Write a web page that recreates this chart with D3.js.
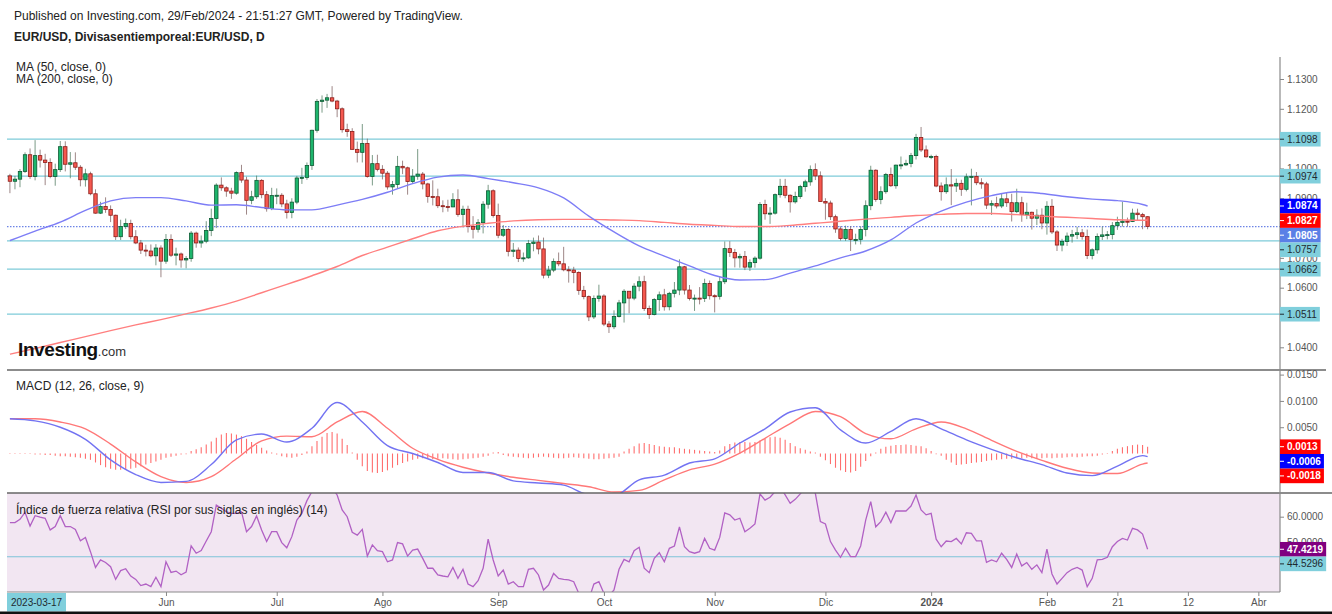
<!DOCTYPE html>
<html>
<head>
<meta charset="utf-8">
<script src="https://cdn.jsdelivr.net/npm/d3@7"></script>
<style>
  body { margin: 0; background: #fff; }
  svg text { font-family: "Liberation Sans", Arial, Helvetica, sans-serif; }
</style>
</head>
<body>
<svg id="chart" width="1332" height="614"></svg>
<script>
// ---- data (EUR/USD daily, from 2023-04-19) ----
const firstDay = new Date(2023, 3, 19);

const openP = [
1.0975,1.0957,1.0964,1.0990,1.1046,1.0973,1.1043,1.1028,1.1020,1.0973,
1.0996,1.1073,1.1014,1.1019,1.1004,1.0962,1.0982,1.0915,1.0850,1.0872,
1.0862,1.0843,1.0771,1.0805,1.0815,1.0771,1.0750,1.0726,1.0723,1.0707,
1.0733,1.0689,1.0762,1.0709,1.0713,1.0693,1.0698,1.0783,1.0750,1.0756,
1.0792,1.0832,1.0944,1.0935,1.0924,1.0917,1.0986,1.0961,1.0893,1.0905,
1.0960,1.0912,1.0865,1.0909,1.0910,1.0881,1.0852,1.0887,1.0968,1.0970,
1.1010,1.1128,1.1225,1.1229,1.1237,1.1226,1.1200,1.1130,1.1124,1.1064,
1.1054,1.1084,1.0973,1.1016,1.0997,1.0984,1.0938,1.0946,1.1007,1.1002,
1.0956,1.0974,1.0981,1.0948,1.0906,1.0905,1.0875,1.0872,1.0871,1.0895,
1.0846,1.0863,1.0805,1.0796,1.0818,1.0880,1.0925,1.0842,1.0776,1.0795,
1.0722,1.0726,1.0698,1.0700,1.0748,1.0753,1.0730,1.0642,1.0659,1.0688,
1.0680,1.0660,1.0659,1.0651,1.0591,1.0570,1.0502,1.0564,1.0572,1.0478,
1.0469,1.0503,1.0549,1.0588,1.0565,1.0605,1.0620,1.0530,1.0510,1.0560,
1.0576,1.0536,1.0581,1.0592,1.0670,1.0592,1.0564,1.0565,1.0564,1.0614,
1.0573,1.0571,1.0620,1.0731,1.0718,1.0700,1.0705,1.0669,1.0684,1.0699,
1.0879,1.0848,1.0850,1.0912,1.0940,1.0910,1.0888,1.0906,1.0939,1.0955,
1.0996,1.0975,1.0889,1.0884,1.0838,1.0797,1.0765,1.0795,1.0762,1.0762,
1.0795,1.0875,1.0994,1.0896,1.0922,1.0980,1.0942,1.1011,1.1012,1.1017,
1.1043,1.1104,1.1062,1.1039,1.1040,1.0941,1.0922,1.0945,1.0941,1.0950,
1.0930,1.0972,1.0973,1.0952,1.0948,1.0877,1.0882,1.0874,1.0898,1.0885,
1.0855,1.0885,1.0845,1.0853,1.0833,1.0843,1.0817,1.0873,1.0787,1.0743,
1.0755,1.0773,1.0778,1.0784,1.0772,1.0708,1.0727,1.0772,1.0777,1.0778,
1.0808,1.0819,1.0823,1.0822,1.0850,1.0845,1.0838];

const highP = [
1.0982,1.0975,1.0998,1.1054,1.1067,1.1095,1.1063,1.1049,1.1034,1.1016,
1.1092,1.1091,1.1055,1.1054,1.1011,1.0999,1.0989,1.0930,1.0888,1.0903,
1.0876,1.0845,1.0828,1.0832,1.0828,1.0793,1.0760,1.0744,1.0745,1.0746,
1.0742,1.0780,1.0779,1.0734,1.0718,1.0706,1.0790,1.0788,1.0775,1.0823,
1.0865,1.0950,1.0970,1.0940,1.0935,1.0990,1.1012,1.0972,1.0925,1.0976,
1.0964,1.0924,1.0935,1.0933,1.0917,1.0895,1.0900,1.0975,1.1002,1.1020,
1.1130,1.1233,1.1245,1.1250,1.1276,1.1230,1.1205,1.1150,1.1135,1.1090,
1.1149,1.1100,1.1045,1.1046,1.1011,1.0991,1.0958,1.1042,1.1026,1.1006,
1.0998,1.1065,1.0988,1.0952,1.0960,1.0932,1.0893,1.0895,1.0917,1.0930,
1.0875,1.0875,1.0840,1.0830,1.0890,1.0945,1.0930,1.0882,1.0810,1.0800,
1.0750,1.0735,1.0718,1.0760,1.0768,1.0775,1.0768,1.0673,1.0698,1.0718,
1.0737,1.0672,1.0670,1.0655,1.0606,1.0574,1.0574,1.0610,1.0578,1.0488,
1.0524,1.0559,1.0595,1.0588,1.0615,1.0638,1.0640,1.0540,1.0565,1.0587,
1.0596,1.0586,1.0619,1.0695,1.0673,1.0609,1.0577,1.0602,1.0630,1.0624,
1.0578,1.0639,1.0755,1.0756,1.0730,1.0714,1.0723,1.0695,1.0705,1.0887,
1.0895,1.0870,1.0916,1.0965,1.0965,1.0913,1.0922,1.0945,1.0962,1.1010,
1.1017,1.0990,1.0900,1.0892,1.0845,1.0806,1.0808,1.0806,1.0781,1.0806,
1.0893,1.1009,1.0997,1.0940,1.0985,1.1003,1.1013,1.1040,1.1029,1.1052,
1.1116,1.1139,1.1077,1.1046,1.1046,1.0953,1.0970,1.0998,1.0966,1.0962,
1.0983,1.0999,1.0988,1.0967,1.0955,1.0893,1.0905,1.0915,1.0920,1.0915,
1.0932,1.0905,1.0885,1.0855,1.0863,1.0866,1.0890,1.0897,1.0793,1.0764,
1.0785,1.0794,1.0804,1.0797,1.0795,1.0732,1.0782,1.0805,1.0790,1.0820,
1.0838,1.0888,1.0835,1.0865,1.0865,1.0851,1.0840];

const lowP = [
1.0917,1.0930,1.0937,1.0985,1.0965,1.0960,1.1003,1.0944,1.0967,1.0942,
1.0988,1.0990,1.0967,1.0995,1.0940,1.0939,1.0910,1.0848,1.0847,1.0851,
1.0820,1.0760,1.0760,1.0797,1.0762,1.0746,1.0713,1.0705,1.0702,1.0675,
1.0635,1.0680,1.0703,1.0675,1.0667,1.0665,1.0687,1.0734,1.0734,1.0749,
1.0773,1.0800,1.0925,1.0905,1.0898,1.0912,1.0952,1.0845,1.0880,1.0898,
1.0900,1.0855,1.0860,1.0880,1.0870,1.0832,1.0833,1.0880,1.0948,1.0962,
1.0995,1.1120,1.1187,1.1203,1.1222,1.1172,1.1120,1.1106,1.1063,1.1020,
1.1020,1.0969,1.0943,1.0990,1.0963,1.0929,1.0912,1.0932,1.0981,1.0912,
1.0949,1.0962,1.0930,1.0885,1.0876,1.0867,1.0853,1.0855,1.0870,1.0838,
1.0802,1.0785,1.0765,1.0785,1.0782,1.0865,1.0835,1.0766,1.0770,1.0705,
1.0703,1.0686,1.0687,1.0697,1.0722,1.0712,1.0631,1.0632,1.0652,1.0672,
1.0655,1.0617,1.0615,1.0576,1.0561,1.0488,1.0495,1.0553,1.0471,1.0448,
1.0461,1.0500,1.0483,1.0514,1.0558,1.0588,1.0522,1.0495,1.0507,1.0522,
1.0523,1.0524,1.0567,1.0575,1.0577,1.0557,1.0522,1.0544,1.0552,1.0560,
1.0517,1.0560,1.0612,1.0703,1.0668,1.0667,1.0659,1.0656,1.0667,1.0694,
1.0828,1.0814,1.0845,1.0902,1.0900,1.0852,1.0882,1.0898,1.0922,1.0942,
1.0961,1.0888,1.0828,1.0827,1.0784,1.0758,1.0757,1.0723,1.0745,1.0745,
1.0772,1.0860,1.0888,1.0880,1.0915,1.0938,1.0932,1.0997,1.1008,1.1004,
1.1030,1.1055,1.1036,1.1031,1.0937,1.0892,1.0915,1.0877,1.0921,1.0908,
1.0923,1.0876,1.0944,1.0932,1.0864,1.0844,1.0866,1.0867,1.0871,1.0822,
1.0850,1.0821,1.0830,1.0795,1.0810,1.0796,1.0778,1.0780,1.0723,1.0722,
1.0740,1.0751,1.0763,1.0761,1.0696,1.0695,1.0714,1.0760,1.0762,1.0762,
1.0794,1.0805,1.0805,1.0820,1.0825,1.0796,1.0796];

const closeP = [
1.0957,1.0964,1.0990,1.1046,1.0973,1.1043,1.1028,1.1020,1.0973,1.0996,
1.1073,1.1014,1.1019,1.1004,1.0962,1.0982,1.0915,1.0850,1.0872,1.0862,
1.0843,1.0771,1.0805,1.0815,1.0771,1.0750,1.0726,1.0723,1.0707,1.0733,
1.0689,1.0762,1.0709,1.0713,1.0693,1.0698,1.0783,1.0750,1.0756,1.0792,
1.0832,1.0944,1.0935,1.0924,1.0917,1.0986,1.0961,1.0893,1.0905,1.0960,
1.0912,1.0865,1.0909,1.0910,1.0881,1.0852,1.0887,1.0968,1.0970,1.1010,
1.1128,1.1225,1.1229,1.1237,1.1226,1.1200,1.1130,1.1124,1.1064,1.1054,
1.1084,1.0973,1.1016,1.0997,1.0984,1.0938,1.0946,1.1007,1.1002,1.0956,
1.0974,1.0981,1.0948,1.0906,1.0905,1.0875,1.0872,1.0871,1.0895,1.0846,
1.0863,1.0805,1.0796,1.0818,1.0880,1.0925,1.0842,1.0776,1.0795,1.0722,
1.0726,1.0698,1.0700,1.0748,1.0753,1.0730,1.0642,1.0659,1.0688,1.0680,
1.0660,1.0659,1.0651,1.0591,1.0570,1.0502,1.0564,1.0572,1.0478,1.0469,
1.0503,1.0549,1.0588,1.0565,1.0605,1.0620,1.0530,1.0510,1.0560,1.0576,
1.0536,1.0581,1.0592,1.0670,1.0592,1.0564,1.0565,1.0564,1.0614,1.0573,
1.0571,1.0620,1.0731,1.0718,1.0700,1.0705,1.0669,1.0684,1.0699,1.0879,
1.0848,1.0850,1.0912,1.0940,1.0910,1.0888,1.0906,1.0939,1.0955,1.0996,
1.0975,1.0889,1.0884,1.0838,1.0797,1.0765,1.0795,1.0762,1.0762,1.0795,
1.0875,1.0994,1.0896,1.0922,1.0980,1.0942,1.1011,1.1012,1.1017,1.1043,
1.1104,1.1062,1.1039,1.1040,1.0941,1.0922,1.0945,1.0941,1.0950,1.0930,
1.0972,1.0973,1.0952,1.0948,1.0877,1.0882,1.0874,1.0898,1.0885,1.0855,
1.0885,1.0845,1.0853,1.0833,1.0843,1.0817,1.0873,1.0787,1.0743,1.0755,
1.0773,1.0778,1.0784,1.0772,1.0708,1.0727,1.0772,1.0777,1.0778,1.0808,
1.0819,1.0823,1.0822,1.0850,1.0845,1.0838,1.0805];

// indicator samples: bar index of each sample
const sampleIdx = [0,5,10,15,20,25,30,35,40,45,50,55,60,65,70,75,80,85,90,95,
  100,105,110,115,120,125,130,135,140,145,150,155,160,165,170,175,180,185,190,195,
  200,205,210,215,220,225,226];

const ma50 = [
1.0758,1.0790,1.0820,1.0859,1.0891,1.0902,1.0902,1.0891,1.0877,1.0878,
1.0869,1.0861,1.0861,1.0877,1.0896,1.0920,1.0949,1.0971,1.0978,1.0966,
1.0952,1.0935,1.0901,1.0840,1.0787,1.0740,1.0706,1.0673,1.0641,1.0626,
1.0627,1.0649,1.0673,1.0700,1.0723,1.0760,1.0817,1.0857,1.0887,1.0909,
1.0922,1.0916,1.0905,1.0897,1.0892,1.0879,1.0874];

const ma200 = [
1.0377,1.0396,1.0416,1.0436,1.0456,1.0475,1.0493,1.0512,1.0532,1.0555,
1.0583,1.0611,1.0640,1.0671,1.0708,1.0736,1.0764,1.0791,1.0806,1.0816,
1.0824,1.0828,1.0829,1.0829,1.0827,1.0825,1.0819,1.0813,1.0809,1.0805,
1.0805,1.0809,1.0816,1.0823,1.0830,1.0836,1.0842,1.0846,1.0849,1.0849,
1.0845,1.0840,1.0836,1.0832,1.0828,1.0826,1.0827];

const macdLine = [
0.0066,0.0062,0.0050,0.0027,-0.0012,-0.0040,-0.0055,-0.0053,-0.0021,0.0026,
0.0037,0.0022,0.0048,0.0097,0.0060,0.0015,0.0000,-0.0017,-0.0036,-0.0036,
-0.0052,-0.0056,-0.0060,-0.0078,-0.0080,-0.0050,-0.0041,-0.0018,-0.0010,0.0020,
0.0047,0.0079,0.0087,0.0045,0.0020,0.0042,0.0066,0.0047,0.0026,0.0008,
-0.0008,-0.0021,-0.0037,-0.0042,-0.0024,-0.0004,-0.0006];

const signalLine = [
0.0066,0.0066,0.0060,0.0047,0.0018,-0.0016,-0.0044,-0.0055,-0.0044,-0.0010,
0.0024,0.0033,0.0032,0.0060,0.0080,0.0048,0.0010,-0.0011,-0.0026,-0.0037,
-0.0045,-0.0051,-0.0057,-0.0063,-0.0073,-0.0070,-0.0050,-0.0031,-0.0020,0.0001,
0.0029,0.0057,0.0080,0.0070,0.0038,0.0028,0.0047,0.0060,0.0047,0.0025,
0.0004,-0.0013,-0.0028,-0.0037,-0.0038,-0.0020,-0.0018];

// MACD histogram, one bar per day, in units of 0.0001
const macdHist = [
-1,-1,-1,-1,-1,-2,-2,-3,-3,-4,
-5,-5,-6,-7,-8,-10,-12,-17,-22,-26,
-29,-31,-31,-30,-29,-27,-24,-21,-18,-15,
-12,-8,-6,-4,-2,0,5,8,12,17,
23,30,36,39,38,36,33,28,22,16,
11,6,2,-2,-5,-7,-8,-6,-3,4,
14,24,32,39,41,38,28,16,2,-12,
-24,-33,-36,-37,-35,-32,-27,-22,-18,-15,
-12,-10,-9,-10,-11,-10,-9,-10,-11,-12,
-11,-10,-9,-8,-6,-4,2,3,-3,-5,
-6,-7,-8,-9,-8,-7,-6,-7,-8,-9,
-9,-8,-7,-8,-9,-10,-11,-11,-10,-9,
-8,-6,4,9,14,19,20,18,16,14,
13,12,12,10,9,8,7,6,5,4,
3,6,14,18,21,22,22,21,22,25,
28,31,32,30,26,20,14,10,7,4,
2,-6,-13,-20,-27,-32,-35,-36,-33,-25,
-14,-5,2,9,13,15,16,16,17,16,
15,14,10,5,0,-4,-12,-17,-22,-21,
-20,-18,-17,-16,-14,-13,-12,-11,-10,-10,
-9,-9,-8,-9,-10,-9,-8,-9,-8,-8,
-7,-6,-7,-6,-5,-5,-4,-2,1,5,
9,12,14,16,17,16,13];

const rsi = [
57.7,57.7,59.0,61.7,56.4,60.4,59.8,59.4,54.9,56.2,
60.4,56.2,56.2,55.1,50.7,52.0,46.5,40.4,43.3,42.3,
40.7,35.8,39.2,39.9,37.1,35.8,33.4,34.0,33.0,36.6,
33.0,42.6,38.5,39.0,37.6,38.6,48.7,45.9,46.9,50.6,
54.2,64.5,63.2,61.9,61.3,61.3,61.9,54.2,56.2,60.3,
54.9,50.4,54.2,54.2,50.0,48.0,52.3,58.7,61.3,66.2,
69.7,72.0,74.0,73.0,71.0,68.4,62.6,60.0,54.0,52.9,
55.1,44.8,49.1,46.9,46.5,42.6,43.3,50.0,49.5,44.8,
47.1,47.5,43.9,40.1,40.1,37.5,37.1,36.8,40.4,36.2,
39.7,34.0,33.0,35.3,40.1,51.3,43.3,37.1,39.4,34.0,
34.9,33.0,33.0,39.7,40.1,37.5,31.7,33.6,38.1,36.2,
35.8,35.6,34.9,30.4,29.0,28.0,34.0,34.9,30.4,29.5,
31.7,39.7,43.5,42.6,46.9,48.2,40.1,38.4,43.9,46.1,
42.6,47.8,48.7,56.1,48.4,46.5,45.9,46.5,51.6,47.8,
47.1,52.0,61.5,60.7,58.7,59.4,54.2,55.5,57.2,68.8,
66.4,67.5,69.7,71.5,68.4,65.2,66.7,68.8,71.0,71.0,
69.0,58.1,57.2,50.4,47.1,44.3,47.8,44.6,44.6,48.7,
58.7,65.8,56.1,58.1,61.7,57.7,62.2,62.2,62.2,64.1,
68.4,62.6,60.7,61.3,51.3,48.4,50.6,50.4,51.6,49.5,
53.8,53.6,50.7,50.7,42.4,43.3,42.6,45.9,43.5,40.4,
45.6,41.0,42.3,39.7,41.4,38.4,47.5,37.9,34.0,36.2,
38.4,39.7,40.4,39.4,33.0,36.2,43.3,43.5,44.3,48.4,
50.4,51.6,51.0,55.5,54.9,53.3,47.4219];

// drawn horizontal levels
const priceLevels = [1.1098, 1.0974, 1.0757, 1.0662, 1.0511];
const rsiLevel = 44.5296;

// axis ticks
const priceTicks = [1.04, 1.05, 1.06, 1.07, 1.08, 1.09, 1.10, 1.11, 1.12, 1.13];
const macdTicks = [-0.005, 0, 0.005, 0.010, 0.015];
const rsiTicks = [40, 50, 60];
const tickDates = ["2023-06-01","2023-07-03","2023-08-01","2023-09-01","2023-10-02","2023-11-01",
  "2023-12-01","2024-01-01","2024-02-01","2024-02-21","2024-03-12","2024-04-01"];
const tickLabels = ["Jun","Jul","Ago","Sep","Oct","Nov","Dic","2024","Feb","21","12","Abr"];

// ---- layout ----
const svg = d3.select('#chart');
const plotL = 7, axisX = 1280;
const mainTop = 57, macdTop = 370, rsiTop = 493, rsiBottom = 592;
const fmtDay = d3.timeFormat('%Y-%m-%d');

// trading days (weekdays) from the first bar onwards
const days = d3.timeDay.range(firstDay, new Date(2024, 3, 10)).filter(d => d.getDay() % 6 !== 0);
const dayIndex = s => days.findIndex(d => fmtDay(d) === s);

const x = d3.scaleLinear().domain([-0.58, 252.3]).range([plotL, axisX]);
const yP = d3.scaleLinear().domain([1.04, 1.13]).range([347.3, 79]);
const yM = d3.scaleLinear().domain([-0.0075, 0.015]).range([493, 374.6]);
const yR = d3.scaleLinear().domain([40, 60]).range([568.5, 516.7]);

const defs = svg.append('defs');
function clip(id, y0, y1) {
  defs.append('clipPath').attr('id', id).append('rect')
    .attr('x', plotL).attr('y', y0).attr('width', axisX - plotL).attr('height', y1 - y0);
}
clip('cMain', mainTop, macdTop);
clip('cMacd', macdTop, rsiTop);
clip('cRsi', rsiTop, rsiBottom);

// RSI panel background
svg.append('rect').attr('x', plotL).attr('y', rsiTop)
  .attr('width', axisX - plotL).attr('height', rsiBottom - rsiTop).attr('fill', '#f2e6f2');

// ---- main panel ----
const gMain = svg.append('g').attr('clip-path', 'url(#cMain)');

gMain.selectAll('line.level').data(priceLevels).join('line')
  .attr('x1', plotL).attr('x2', axisX)
  .attr('y1', d => yP(d)).attr('y2', d => yP(d))
  .attr('stroke', '#7ecbd9').attr('stroke-width', 1.2);

const lastClose = closeP[closeP.length - 1];
gMain.append('line')
  .attr('x1', plotL).attr('x2', axisX).attr('y1', yP(lastClose)).attr('y2', yP(lastClose))
  .attr('stroke', '#6d84e6').attr('stroke-width', 1.2).attr('stroke-dasharray', '1.5,1.5');

const bars = closeP.map((c, i) => ({ i, o: openP[i], h: highP[i], l: lowP[i], c }));
const bodyW = 3.4;

gMain.selectAll('line.wick').data(bars).join('line')
  .attr('x1', d => x(d.i)).attr('x2', d => x(d.i))
  .attr('y1', d => yP(d.h)).attr('y2', d => yP(d.l))
  .attr('stroke', d => d.c >= d.o ? '#4f7a5f' : '#7d5f5f').attr('stroke-opacity', 0.75).attr('stroke-width', 1);

gMain.selectAll('rect.body').data(bars).join('rect')
  .attr('x', d => x(d.i) - bodyW / 2).attr('width', bodyW)
  .attr('y', d => yP(Math.max(d.o, d.c)))
  .attr('height', d => Math.max(1, Math.abs(yP(d.o) - yP(d.c))))
  .attr('fill', d => d.c >= d.o ? '#1db56c' : '#f5584f')
  .attr('stroke', d => d.c >= d.o ? '#0d5a33' : '#8c1c18').attr('stroke-width', 0.8);

const maLine = vals => d3.line()
  .x((d, k) => x(sampleIdx[k])).y(d => yP(d))
  .curve(d3.curveMonotoneX)(vals);

gMain.append('path').attr('d', maLine(ma200)).attr('fill', 'none')
  .attr('stroke', '#ff7f7f').attr('stroke-width', 1.4);
gMain.append('path').attr('d', maLine(ma50)).attr('fill', 'none')
  .attr('stroke', '#7d7df6').attr('stroke-width', 1.4);

// ---- MACD panel ----
const gMacd = svg.append('g').attr('clip-path', 'url(#cMacd)');
gMacd.selectAll('line.hist').data(macdHist).join('line')
  .attr('x1', (d, i) => x(i)).attr('x2', (d, i) => x(i))
  .attr('y1', yM(0)).attr('y2', d => yM(d / 10000) + (d === 0 ? 0.6 : 0))
  .attr('stroke', '#ff6e6e').attr('stroke-width', 1.1);

const macdPath = vals => d3.line()
  .x((d, k) => x(sampleIdx[k])).y(d => yM(d))
  .curve(d3.curveMonotoneX)(vals);
gMacd.append('path').attr('d', macdPath(signalLine)).attr('fill', 'none')
  .attr('stroke', '#ff7878').attr('stroke-width', 1.4);
gMacd.append('path').attr('d', macdPath(macdLine)).attr('fill', 'none')
  .attr('stroke', '#7373f2').attr('stroke-width', 1.4);

// ---- RSI panel ----
const gRsi = svg.append('g').attr('clip-path', 'url(#cRsi)');
gRsi.append('line').attr('x1', plotL).attr('x2', axisX)
  .attr('y1', yR(rsiLevel)).attr('y2', yR(rsiLevel))
  .attr('stroke', '#7ec3d8').attr('stroke-width', 1.2);
gRsi.append('path')
  .attr('d', d3.line().x((d, i) => x(i)).y(d => yR(d))(rsi))
  .attr('fill', 'none').attr('stroke', '#b161c4').attr('stroke-width', 1.3);

// ---- frame ----
svg.append('line').attr('x1', plotL).attr('x2', 1326).attr('y1', macdTop).attr('y2', macdTop)
  .attr('stroke', '#666').attr('stroke-width', 1.4);
svg.append('line').attr('x1', plotL).attr('x2', 1332).attr('y1', rsiTop).attr('y2', rsiTop)
  .attr('stroke', '#666').attr('stroke-width', 1.4);
svg.append('line').attr('x1', axisX).attr('x2', axisX).attr('y1', mainTop).attr('y2', rsiBottom)
  .attr('stroke', '#8a8a8a').attr('stroke-width', 1.2);
svg.append('line').attr('x1', plotL).attr('x2', axisX).attr('y1', rsiBottom).attr('y2', rsiBottom)
  .attr('stroke', '#8a8a8a').attr('stroke-width', 1.2);

function styleAxis(g) {
  g.select('.domain').remove();
  g.selectAll('.tick line').attr('stroke', '#888');
  g.selectAll('.tick text').attr('fill', '#555').attr('font-size', 10)
    .attr('font-family', '"Liberation Sans", Arial, sans-serif');
}
const f4 = d3.format('.4f');
const yAxes = [];
yAxes.push(svg.append('g').attr('transform', `translate(${axisX},0)`)
  .call(d3.axisRight(yP).tickValues(priceTicks).tickFormat(f4).tickSize(4).tickPadding(3)).call(styleAxis));
yAxes.push(svg.append('g').attr('transform', `translate(${axisX},0)`)
  .call(d3.axisRight(yM).tickValues(macdTicks).tickFormat(f4).tickSize(4).tickPadding(3)).call(styleAxis));
yAxes.push(svg.append('g').attr('transform', `translate(${axisX},0)`)
  .call(d3.axisRight(yR).tickValues(rsiTicks).tickFormat(f4).tickSize(4).tickPadding(3)).call(styleAxis));

const xAxisG = svg.append('g').attr('transform', `translate(0,${rsiBottom})`)
  .call(d3.axisBottom(x).tickValues(tickDates.map(dayIndex))
    .tickFormat((d, k) => tickLabels[k]).tickSize(4).tickPadding(3))
  .call(styleAxis);
xAxisG.selectAll('.tick text').attr('font-weight', (d, k) => tickLabels[k] === '2024' ? 'bold' : 'normal');

// ---- value boxes on the right axis ----
const boxSpans = [];
function boxes(items, scale) {
  const list = items.map(d => Object.assign({ y: scale(d.v) }, d)).sort((a, b) => a.y - b.y);
  const h = 14.6;
  for (let k = 1; k < list.length; k++) {
    if (list[k].y < list[k - 1].y + h) list[k].y = list[k - 1].y + h;
  }
  list.forEach(d => {
    boxSpans.push([d.y - h / 2, d.y + h / 2]);
    const g = svg.append('g');
    const t = g.append('text').attr('x', axisX + 7).attr('y', d.y).attr('dy', '0.35em')
      .attr('font-size', 10).attr('fill', d.color).attr('font-weight', d.bold ? 'bold' : 'normal')
      .text(d.label);
    const w = t.node().getComputedTextLength();
    g.insert('rect', 'text').attr('x', axisX).attr('y', d.y - h / 2)
      .attr('width', w + 10).attr('height', h).attr('fill', d.fill);
    g.append('line').attr('x1', axisX).attr('x2', axisX + 4).attr('y1', d.y).attr('y2', d.y)
      .attr('stroke', d.color);
  });
}
const cyan = '#80cfdc';
boxes([
  ...priceLevels.map(v => ({ v, label: f4(v), fill: cyan, color: '#1f2a30' })),
  { v: ma50[ma50.length - 1], label: f4(ma50[ma50.length - 1]), fill: '#0000ff', color: '#fff', bold: true },
  { v: ma200[ma200.length - 1], label: f4(ma200[ma200.length - 1]), fill: '#ff0000', color: '#fff', bold: true },
  { v: lastClose, label: f4(lastClose), fill: '#5a7fe6', color: '#fff', bold: true }
], yP);

const histLast = macdHist[macdHist.length - 1] / 10000;
const macdLast = macdLine[macdLine.length - 1];
const sigLast = signalLine[signalLine.length - 1];
const signed = v => (v < 0 ? '-' : '') + Math.abs(v).toFixed(4);
boxes([
  { v: histLast, label: signed(histLast), fill: '#ff0000', color: '#fff', bold: true },
  { v: macdLast, label: signed(macdLast), fill: '#0000ff', color: '#fff', bold: true },
  { v: sigLast, label: signed(sigLast), fill: '#ff0000', color: '#fff', bold: true }
], yM);

const rsiLast = rsi[rsi.length - 1];
boxes([
  { v: rsiLast, label: f4(rsiLast), fill: '#800080', color: '#fff', bold: true },
  { v: rsiLevel, label: f4(rsiLevel), fill: cyan, color: '#1f2a30' }
], yR);

// tick labels hidden behind the boxes are dropped, as in the original
yAxes.forEach(g => g.selectAll('.tick').each(function () {
  const tr = this.getAttribute('transform');
  const ty = +tr.match(/,\s*([-\d.]+)\)/)[1];
  let lo = ty - 4, hi = ty + 4;
  let free = 0;
  const spans = boxSpans.filter(s => s[1] > lo && s[0] < hi).sort((a, b) => a[0] - b[0]);
  let cur = lo;
  spans.forEach(s => { if (s[0] > cur) free += s[0] - cur; cur = Math.max(cur, s[1]); });
  if (cur < hi) free += hi - cur;
  if (free < 2.5) d3.select(this).select('text').remove();
}));

// date box at the lower left
svg.append('rect').attr('x', plotL).attr('y', 593).attr('width', 59).attr('height', 18.5).attr('fill', cyan);
svg.append('text').attr('x', 11).attr('y', 606).attr('font-size', 10).attr('fill', '#1f2a30')
  .text('2023-03-17');

// ---- texts ----
svg.append('text').attr('x', 14).attr('y', 20).attr('font-size', 12).attr('fill', '#222')
  .text('Published on Investing.com, 29/Feb/2024 - 21:51:27 GMT, Powered by TradingView.');
svg.append('text').attr('x', 14).attr('y', 41).attr('font-size', 12).attr('font-weight', 'bold').attr('fill', '#222')
  .text('EUR/USD, Divisasentiemporeal:EUR/USD, D');
svg.append('text').attr('x', 16).attr('y', 71).attr('font-size', 12).attr('fill', '#222').text('MA (50, close, 0)');
svg.append('text').attr('x', 16).attr('y', 83).attr('font-size', 12).attr('fill', '#222').text('MA (200, close, 0)');
svg.append('text').attr('x', 16).attr('y', 389.5).attr('font-size', 12).attr('fill', '#222').text('MACD (12, 26, close, 9)');
svg.append('text').attr('x', 16).attr('y', 513.5).attr('font-size', 12).attr('fill', '#222')
  .text('Índice de fuerza relativa (RSI por sus siglas en inglés) (14)');

const logo = svg.append('text').attr('x', 18).attr('y', 356).attr('fill', '#111');
logo.append('tspan').attr('font-size', 19).attr('font-weight', 'bold').attr('letter-spacing', -0.4).text('Investing');
logo.append('tspan').attr('font-size', 13).attr('fill', '#333').text('.com');

// dark strip at the very bottom
svg.append('rect').attr('x', 0).attr('y', 611.5).attr('width', 1332).attr('height', 2.5).attr('fill', '#111');
</script>
</body>
</html>
